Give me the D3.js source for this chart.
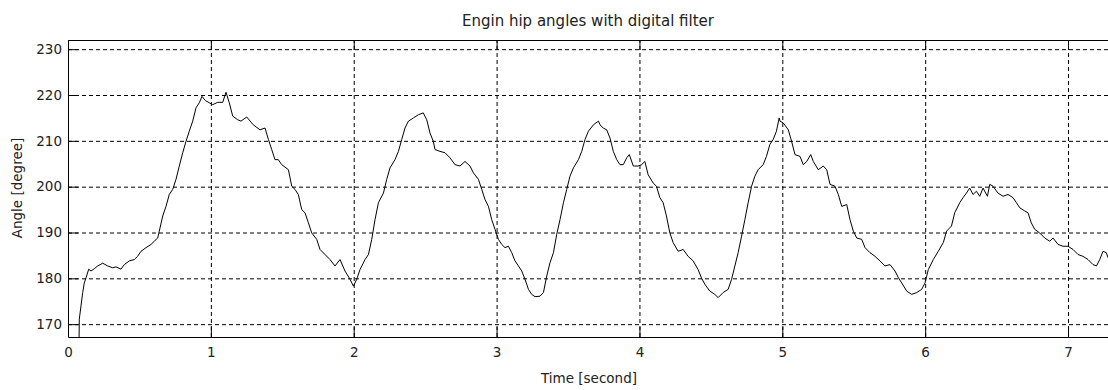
<!DOCTYPE html>
<html lang="en">

<head>
    <meta charset="utf-8">
    <title>Engin hip angles with digital filter</title>
    <script type="text/javascript" src="https://cdn.jsdelivr.net/npm/d3@7"></script>
    <style type="text/css">
        body {
            margin: 0;
            background: #fff;
        }
        text {
            font-family: "DejaVu Sans", Arial, sans-serif;
            fill: #222;
        }
    </style>
</head>

<body>
    <script type="text/javascript">

        var w = 1108;
        var h = 390;

        // time in seconds, angle in degrees
        var time = [
            0.075, 0.079, 0.091, 0.103, 0.114, 0.126, 0.145, 0.161, 0.184, 0.208,
            0.243, 0.278, 0.313, 0.336, 0.371, 0.394, 0.429, 0.464, 0.487, 0.511,
            0.546, 0.581, 0.604, 0.628, 0.639, 0.663, 0.686, 0.709, 0.733, 0.756,
            0.779, 0.803, 0.826, 0.849, 0.873, 0.896, 0.919, 0.938, 0.961, 0.989,
            1.013, 1.048, 1.083, 1.106, 1.129, 1.153, 1.188, 1.211, 1.251, 1.297,
            1.344, 1.379, 1.403, 1.426, 1.449, 1.472, 1.496, 1.543, 1.566, 1.589,
            1.612, 1.636, 1.659, 1.683, 1.706, 1.741, 1.764, 1.799, 1.834, 1.869,
            1.904, 1.939, 1.974, 1.998, 2.021, 2.044, 2.079, 2.103, 2.126, 2.149,
            2.173, 2.208, 2.231, 2.254, 2.289, 2.313, 2.336, 2.359, 2.383, 2.418,
            2.453, 2.487, 2.511, 2.534, 2.557, 2.569, 2.604, 2.639, 2.674, 2.709,
            2.744, 2.779, 2.814, 2.838, 2.873, 2.896, 2.919, 2.943, 2.966, 2.989,
            3.013, 3.036, 3.059, 3.083, 3.106, 3.129, 3.153, 3.176, 3.199, 3.223,
            3.246, 3.269, 3.304, 3.328, 3.351, 3.374, 3.398, 3.421, 3.444, 3.468,
            3.491, 3.514, 3.538, 3.573, 3.596, 3.619, 3.643, 3.678, 3.713, 3.724,
            3.747, 3.771, 3.794, 3.817, 3.841, 3.864, 3.887, 3.911, 3.929, 3.957,
            3.991, 4.015, 4.038, 4.061, 4.096, 4.119, 4.143, 4.166, 4.189, 4.213,
            4.236, 4.271, 4.306, 4.341, 4.376, 4.411, 4.434, 4.458, 4.493, 4.528,
            4.551, 4.586, 4.621, 4.645, 4.668, 4.691, 4.715, 4.738, 4.761, 4.785,
            4.808, 4.831, 4.866, 4.889, 4.913, 4.936, 4.959, 4.978, 4.984, 5.007,
            5.042, 5.065, 5.089, 5.124, 5.147, 5.171, 5.199, 5.217, 5.252, 5.287,
            5.311, 5.334, 5.369, 5.392, 5.416, 5.451, 5.474, 5.497, 5.521, 5.556,
            5.579, 5.614, 5.649, 5.684, 5.719, 5.754, 5.789, 5.813, 5.836, 5.871,
            5.906, 5.941, 5.976, 5.999, 6.022, 6.057, 6.092, 6.127, 6.150, 6.184,
            6.207, 6.242, 6.265, 6.289, 6.312, 6.335, 6.359, 6.382, 6.405, 6.436,
            6.452, 6.475, 6.510, 6.545, 6.580, 6.615, 6.639, 6.662, 6.697, 6.720,
            6.743, 6.767, 6.802, 6.837, 6.872, 6.895, 6.930, 6.965, 7.000, 7.035,
            7.070, 7.105, 7.140, 7.175, 7.199, 7.222, 7.245, 7.268, 7.280
        ];

        var angle = [
            160.0, 171.1, 174.0, 176.9, 179.0, 180.1, 182.0, 181.6, 182.1, 182.7,
            183.3, 182.7, 182.3, 182.5, 182.0, 183.0, 183.8, 184.1, 184.8, 185.9,
            186.7, 187.4, 188.1, 188.8, 190.3, 193.6, 195.7, 198.3, 199.4, 201.6,
            204.5, 207.4, 209.9, 212.1, 214.3, 217.2, 218.3, 219.7, 218.8, 218.3,
            217.9, 218.4, 218.4, 220.6, 218.3, 215.4, 214.6, 214.3, 215.2, 213.5,
            212.4, 212.8, 210.3, 208.1, 205.9, 205.9, 204.8, 203.7, 200.1, 199.4,
            198.3, 195.0, 194.3, 192.1, 189.9, 188.5, 186.3, 185.2, 184.1, 182.7,
            184.1, 181.6, 179.8, 178.3, 179.8, 181.9, 184.1, 185.2, 188.5, 192.8,
            196.5, 198.6, 201.6, 204.1, 205.9, 207.7, 210.3, 212.8, 214.3, 215.0,
            215.7, 216.1, 214.6, 211.7, 209.9, 208.1, 207.7, 207.4, 206.3, 204.8,
            204.5, 205.5, 204.5, 203.0, 201.6, 199.4, 197.2, 195.7, 192.8, 190.7,
            188.5, 187.4, 186.7, 187.0, 185.6, 183.8, 182.7, 181.6, 179.8, 177.6,
            176.5, 176.0, 176.1, 176.9, 180.5, 183.4, 185.6, 189.6, 192.8, 196.5,
            199.4, 202.3, 204.1, 205.9, 207.7, 210.3, 212.1, 213.5, 214.3, 213.5,
            212.8, 212.4, 210.6, 207.7, 205.9, 204.8, 204.8, 206.3, 207.0, 204.5,
            204.5, 204.8, 205.5, 202.6, 200.8, 200.1, 197.6, 196.5, 193.6, 189.9,
            187.8, 185.9, 186.3, 184.8, 183.8, 181.9, 180.1, 178.7, 177.2, 176.5,
            175.8, 176.9, 177.6, 179.8, 182.7, 185.6, 189.2, 192.8, 196.5, 200.1,
            202.3, 203.7, 204.8, 206.6, 209.2, 210.3, 212.1, 215.0, 214.3, 213.9,
            212.4, 209.9, 207.0, 206.6, 204.8, 205.5, 207.0, 205.5, 203.7, 204.5,
            203.7, 200.5, 200.1, 198.3, 195.7, 196.1, 192.8, 190.3, 188.8, 188.5,
            186.7, 185.6, 184.8, 183.8, 182.7, 183.0, 181.6, 180.1, 179.0, 177.2,
            176.5, 176.9, 177.6, 179.0, 181.9, 184.1, 185.9, 187.8, 190.3, 191.4,
            194.3, 196.5, 197.6, 198.6, 199.7, 198.3, 199.0, 197.9, 199.7, 197.9,
            200.5, 200.1, 198.6, 197.9, 198.3, 197.6, 196.5, 195.4, 194.7, 194.3,
            192.1, 190.7, 189.9, 188.8, 188.1, 188.8, 187.4, 187.0, 187.0, 186.3,
            185.2, 184.8, 184.1, 183.0, 182.7, 184.1, 185.9, 185.6, 184.5
        ];

        var xTicks = [0, 1, 2, 3, 4, 5, 6, 7];
        var yTicks = [170, 180, 190, 200, 210, 220, 230];

        var dataset = time.map(function (t, i) {
            return { t: t, a: angle[i] };
        });

        var plotLeft = 68, plotTop = 40, plotBottom = 337;
        var pxPerSec = 142.86;
        var xMax = 7.5;   // right part of the axes is cut off by the window

        var xScale = d3.scaleLinear()
            .domain([0, xMax])
            .range([plotLeft, plotLeft + xMax * pxPerSec]);

        var yScale = d3.scaleLinear()
            .domain([167.2, 232])
            .range([plotBottom, plotTop]);

        var plotW = xScale(xMax) - plotLeft;
        var plotH = plotBottom - plotTop;

        var svg = d3.select("body")
            .append("svg")
            .attr("width", w)
            .attr("height", h);

        svg.append("defs").append("clipPath")
            .attr("id", "plotclip")
            .append("rect")
            .attr("x", plotLeft)
            .attr("y", plotTop)
            .attr("width", plotW)
            .attr("height", plotH);

        // dashed grid
        svg.append("g")
            .attr("transform", "translate(0," + plotBottom + ")")
            .call(d3.axisBottom(xScale).tickValues(xTicks)
                .tickSize(-plotH).tickFormat(""))
            .call(function (g) {
                g.select(".domain").remove();
                g.selectAll("line").attr("stroke", "#000").attr("stroke-dasharray", "4,3");
            });

        svg.append("g")
            .attr("transform", "translate(" + plotLeft + ",0)")
            .call(d3.axisLeft(yScale).tickValues(yTicks)
                .tickSize(-plotW).tickFormat(""))
            .call(function (g) {
                g.select(".domain").remove();
                g.selectAll("line").attr("stroke", "#000").attr("stroke-dasharray", "4,3");
            });

        // signal
        var line = d3.line()
            .x(function (d) { return xScale(d.t); })
            .y(function (d) { return yScale(d.a); });

        svg.append("path")
            .datum(dataset)
            .attr("clip-path", "url(#plotclip)")
            .attr("fill", "none")
            .attr("stroke", "#000")
            .attr("stroke-width", 1)
            .attr("d", line);

        // axes box with inward ticks
        var xAxis = d3.axisBottom(xScale).tickValues(xTicks)
            .tickSizeInner(-10).tickSizeOuter(0).tickPadding(10);
        var yAxis = d3.axisLeft(yScale).tickValues(yTicks)
            .tickSizeInner(-10).tickSizeOuter(0).tickPadding(6);

        svg.append("g")
            .attr("class", "axis")
            .attr("transform", "translate(0," + plotBottom + ")")
            .call(xAxis);

        svg.append("g")
            .attr("class", "axis")
            .attr("transform", "translate(" + plotLeft + ",0)")
            .call(yAxis);

        svg.append("g")
            .attr("transform", "translate(0," + plotTop + ")")
            .call(d3.axisTop(xScale).tickValues(xTicks)
                .tickSizeInner(-10).tickSizeOuter(0).tickFormat(""));

        svg.selectAll(".domain").attr("stroke", "#000");
        svg.selectAll(".tick line").attr("stroke", "#000");
        svg.selectAll(".axis text")
            .attr("font-family", "'DejaVu Sans', Arial, sans-serif")
            .attr("font-size", "13.5px")
            .attr("fill", "#222");

        // labels
        svg.append("text")
            .attr("x", 588)
            .attr("y", 26)
            .attr("text-anchor", "middle")
            .attr("font-size", "15px")
            .text("Engin hip angles with digital filter");

        svg.append("text")
            .attr("x", 589)
            .attr("y", 383)
            .attr("text-anchor", "middle")
            .attr("font-size", "13.5px")
            .text("Time [second]");

        svg.append("text")
            .attr("transform", "translate(22,188) rotate(-90)")
            .attr("text-anchor", "middle")
            .attr("font-size", "13.5px")
            .text("Angle [degree]");

    </script>
</body>

</html>
